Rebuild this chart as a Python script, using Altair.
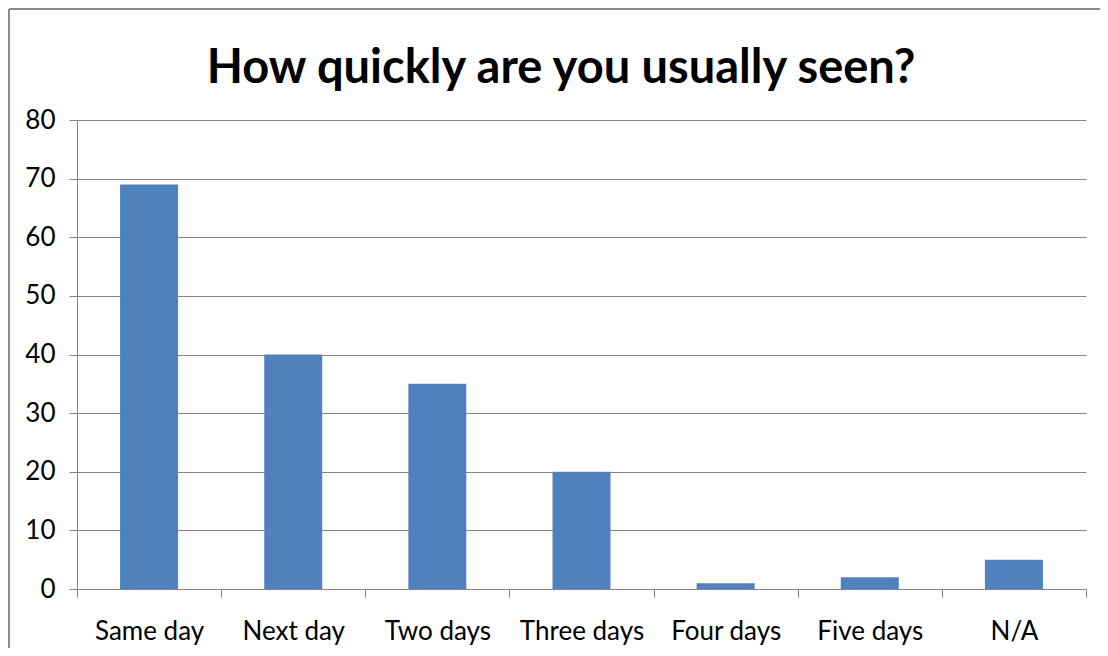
import altair as alt
import pandas as pd

categories = ["Same day", "Next day", "Two days", "Three days", "Four days", "Five days", "N/A"]
values = [69, 40, 35, 20, 1, 2, 5]
y_ticks = [0, 10, 20, 30, 40, 50, 60, 70, 80]
title_text = "How quickly are you usually seen?"

df = pd.DataFrame({"category": categories, "value": values})

FONT = "Lato"
GRAY = "#868686"
W, H = 1009, 469

bars = alt.Chart(df).mark_bar(color="#4F81BD", size=58).encode(
    x=alt.X("category:N", sort=categories, title=None,
            scale=alt.Scale(paddingInner=0, paddingOuter=0),
            axis=alt.Axis(labelAngle=0, tickBand="extent", tickSize=8,
                          tickColor=GRAY, domainColor=GRAY, labelPadding=21,
                          labelFontSize=26, labelFont=FONT, labelColor="black")),
    y=alt.Y("value:Q", title=None,
            scale=alt.Scale(domain=[0, 80], nice=False),
            axis=alt.Axis(values=y_ticks, tickSize=8, tickColor=GRAY,
                          domainColor=GRAY, grid=True, gridColor=GRAY,
                          labelPadding=14, labelFontSize=26, labelFont=FONT,
                          labelColor="black")),
)

frame_base = alt.Chart(alt.Data(values=[{}]))
frame_left = frame_base.mark_rule(stroke="#8c8c8c", strokeWidth=2, clip=False).encode(
    x=alt.value(-68), y=alt.value(-111), y2=alt.value(H + 59),
)
frame_top = frame_base.mark_rule(stroke="#8c8c8c", strokeWidth=2, clip=False).encode(
    x=alt.value(-68), x2=alt.value(W + 14), y=alt.value(-111),
)

title = alt.Chart(alt.Data(values=[{"t": title_text}])).mark_text(
    font=FONT, fontSize=47, fontWeight="bold", color="black",
    align="center", baseline="alphabetic", clip=False
).encode(
    x=alt.value(484), y=alt.value(-37), text="t:N"
)

chart = alt.layer(frame_left, frame_top, bars, title).properties(
    width=W, height=H,
    autosize=alt.AutoSizeParams(type="none"),
    padding={"left": 69, "top": 112, "right": 14, "bottom": 59},
).configure_view(stroke=None)

chart.save("out.html", embed_options={"renderer": "svg", "actions": False})
